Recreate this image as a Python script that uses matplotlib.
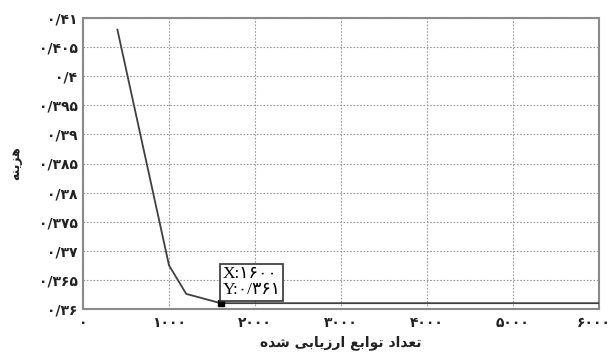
import matplotlib
matplotlib.use("Agg")
import matplotlib.pyplot as plt
from matplotlib.ticker import FixedLocator, NullFormatter, FixedFormatter
import matplotlib.transforms as mtransforms

# ---------------- data ----------------
evals = [400, 1000, 1200, 1400, 1600, 2000, 3000, 4000, 5000, 6000]
cost = [0.408, 0.3675, 0.3626, 0.3618, 0.361, 0.361, 0.361, 0.361, 0.361, 0.361]

x_ticks = [0, 1000, 2000, 3000, 4000, 5000, 6000]
x_tick_labels = ["۰", "۱۰۰۰", "۲۰۰۰", "۳۰۰۰", "۴۰۰۰", "۵۰۰۰", "۶۰۰۰"]
y_ticks = [0.36, 0.365, 0.37, 0.375, 0.38, 0.385, 0.39, 0.395, 0.40, 0.405, 0.41]
y_tick_labels = ["۰/۳۶", "۰/۳۶۵", "۰/۳۷", "۰/۳۷۵", "۰/۳۸", "۰/۳۸۵",
                 "۰/۳۹", "۰/۳۹۵", "۰/۴", "۰/۴۰۵", "۰/۴۱"]
x_label = "تعداد توابع ارزیابی شده"
y_label = "هزینه"
tip_x, tip_y = 1600, 0.361
tip_text = "X:۱۶۰۰\nY:۰/۳۶۱"

# -------- minimal Persian shaping (matplotlib has no bidi/shaping) --------
FORMS = {
    "ا": (0xFE8D, 0xFE8E, None, None),
    "ب": (0xFE8F, 0xFE90, 0xFE91, 0xFE92),
    "ت": (0xFE95, 0xFE96, 0xFE97, 0xFE98),
    "د": (0xFEA9, 0xFEAA, None, None),
    "ر": (0xFEAD, 0xFEAE, None, None),
    "ز": (0xFEAF, 0xFEB0, None, None),
    "ش": (0xFEB5, 0xFEB6, 0xFEB7, 0xFEB8),
    "ع": (0xFEC9, 0xFECA, 0xFECB, 0xFECC),
    "ن": (0xFEE5, 0xFEE6, 0xFEE7, 0xFEE8),
    "ه": (0xFEE9, 0xFEEA, 0xFEEB, 0xFEEC),
    "و": (0xFEED, 0xFEEE, None, None),
    "ی": (0xFBFC, 0xFBFD, 0xFBFE, 0xFBFF),
}


def shape(text):
    out = []
    n = len(text)
    for i, ch in enumerate(text):
        if ch not in FORMS:
            out.append(ch)
            continue
        f = FORMS[ch]
        prev = text[i - 1] if i > 0 else None
        nxt = text[i + 1] if i < n - 1 else None
        join_prev = prev in FORMS and FORMS[prev][2] is not None
        join_next = nxt in FORMS and f[2] is not None
        if join_prev and join_next:
            cp = f[3]
        elif join_prev:
            cp = f[1]
        elif join_next:
            cp = f[2]
        else:
            cp = f[0]
        out.append(chr(cp))
    return "".join(reversed(out))


# ---------------- figure ----------------
fig = plt.figure(figsize=(6.11, 3.58), dpi=100)
ax = fig.add_axes([83 / 611, 1 - 309 / 358, (599 - 83) / 611, (309 - 18) / 358])

ax.plot(evals, cost, color="#404040", lw=1.3, zorder=3)
ax.plot([tip_x], [tip_y], marker="s", ms=4, color="black", zorder=4)

ax.set_xlim(0, 6000)
ax.set_ylim(0.36, 0.41)
ax.xaxis.set_major_locator(FixedLocator(x_ticks))
ax.xaxis.set_major_formatter(NullFormatter())
ax.yaxis.set_major_locator(FixedLocator(y_ticks))
ax.yaxis.set_major_formatter(FixedFormatter(y_tick_labels))
ax.tick_params(length=0, labelsize=10, colors="#222222")
ax.tick_params(axis="y", pad=4)
for lab in ax.get_yticklabels():
    lab.set_fontweight("bold")

# x tick labels drawn at data x positions (last one kept inside the figure)
xtrans = mtransforms.blended_transform_factory(ax.transData, ax.transAxes)
for i, (xv, lab) in enumerate(zip(x_ticks, x_tick_labels)):
    off = mtransforms.ScaledTranslation(-5 / 100 if i == len(x_ticks) - 1 else 0,
                                        -14 / 100, fig.dpi_scale_trans)
    ax.text(xv, 0, lab, transform=xtrans + off, ha="center", va="center",
            fontsize=10, fontweight="bold", color="#222222")

ax.grid(True, color="#9a9a9a", linestyle=(0, (1.5, 1.5)), linewidth=0.8)
for sp in ax.spines.values():
    sp.set_color("#8a8a8a")
    sp.set_linewidth(1.5)

ax.annotate(shape(x_label), xy=(0.5, 0), xycoords="axes fraction",
            xytext=(0, -34), textcoords="offset pixels", ha="center", va="center",
            fontsize=10, fontweight="bold", color="#222222")
ax.annotate(shape(y_label), xy=(0, 0.5), xycoords="axes fraction",
            xytext=(-67, 0), textcoords="offset pixels", ha="center", va="center",
            rotation=90, fontsize=9, fontweight="bold", color="#222222")

ax.annotate(tip_text, xy=(tip_x, tip_y), xytext=(2, 5), textcoords="offset pixels",
            ha="left", va="bottom", fontsize=12.5,
            family=["Liberation Serif", "DejaVu Sans"],
            linespacing=1.0, zorder=5,
            bbox=dict(boxstyle="square,pad=0.15", fc="white", ec="#333333", lw=1.2))

fig.savefig("out.png", dpi=100, facecolor="white")
